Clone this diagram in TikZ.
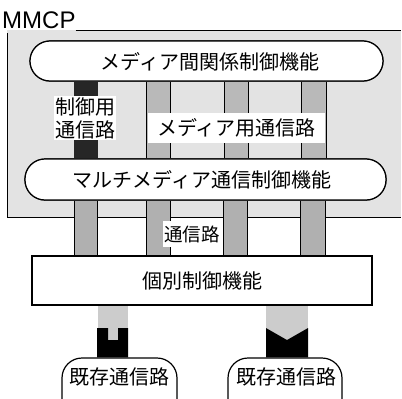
\documentclass[tikz,border=0pt]{standalone}
\usepackage{fontspec}
\setmainfont{Liberation Sans}
\newfontfamily\jp{Noto Sans CJK JP}
\begin{document}
\begin{tikzpicture}[x=1pt,y=-1pt,
  pill/.style={draw, line width=1.2pt, fill=white, rounded corners=20pt, inner sep=0pt},
  boxx/.style={draw, line width=1.2pt, fill=white, inner sep=0pt},
  lbl/.style={font=\jp\fontsize{20}{24}\selectfont, inner sep=1pt},
  colA/.style={fill=gray!55},
  colB/.style={fill=gray!62},
  edge/.style={line width=1pt}]
\useasboundingbox (0,0) rectangle (402,399);
\clip (0,0) rectangle (402,399);
% MMCP label and underline
\node[anchor=south west, inner sep=0pt, font=\fontsize{24}{28}\selectfont] (mmcp) at (2,28.5) {MMCP};
\coordinate (lineend) at (401,30);
% background region
\fill[gray!22] (7,30) rectangle (401,217);
\draw[edge] (mmcp.south east) ++(0,1.5) coordinate (ls) -- (lineend);
\draw[line width=0.8pt] (7,33) -- (7,217) -- (401,217);
% nodes
\node[pill, minimum width=353pt, minimum height=40pt] (top) at (206.5,61) {};
\node[pill, minimum width=361pt, minimum height=41pt] (mid) at (205.5,179.5) {};
\node[boxx, minimum width=340pt, minimum height=49pt] (ind) at (202,280.5) {};
\node[pill, minimum width=115pt, minimum height=60pt] (ex1) at (119.5,388) {};
\node[pill, minimum width=114pt, minimum height=60pt] (ex2) at (285,388) {};
% control channel (dark)
\fill[black!85] (74,0 |- top.south) rectangle (98,0 |- mid.north);
% media channels above
\foreach \a/\b in {146/170,224/248,301/326}{
  \fill[colA] (\a,0 |- top.south) rectangle (\b,0 |- mid.north);
  \draw[edge] (\a,0 |- top.south) -- (\a,0 |- mid.north);
  \draw[edge] (\b,0 |- top.south) -- (\b,0 |- mid.north);
}
% channels below
\foreach \a/\b in {74/97,146/170,223/247,300/325}{
  \fill[colB] (\a,0 |- mid.south) rectangle (\b,0 |- ind.north);
  \draw[edge] (\a,0 |- mid.south) -- (\a,0 |- ind.north);
  \draw[edge] (\b,0 |- mid.south) -- (\b,0 |- ind.north);
}
% redraw pills on top
\node[pill, minimum width=353pt, minimum height=40pt] at (top) {};
\node[pill, minimum width=361pt, minimum height=41pt] at (mid) {};
\node[boxx, minimum width=340pt, minimum height=49pt] at (ind) {};
% texts in pills
\node[lbl] (t1) at (210,62) {メディア間関係制御機能};
\node[lbl] (t2) at (202,180) {マルチメディア通信制御機能};
\node[lbl] (t3) at (202,281) {個別制御機能};
\node[lbl] (t4) at (119,377) {既存通信路};
\node[lbl] (t5) at (286,377) {既存通信路};
% labels on channels
\node[lbl, fill=white, align=center, inner sep=1pt, font=\jp\fontsize{20}{23}\selectfont] (ctl) at (85,118) {制御用\\通信路};
\node[lbl, fill=white, minimum width=177pt, minimum height=30pt] (med) at (236.5,128) {メディア用通信路};
\node[lbl, fill=white, font=\jp\fontsize{18.5}{22}\selectfont, minimum height=26pt] (com) at (192,234) {通信路};
% connectors to existing channels
\fill[gray!40] (98,0 |- ind.south) rectangle (128,328);
\fill[gray!40] (108,328) rectangle (118,340);
\fill[black] (97,328) -- (108,328) -- (108,340) -- (118,340) -- (118,328) -- (128,328) -- (128,0 |- ex1.north) -- (97,0 |- ex1.north) -- cycle;
\fill[gray!40] (266,0 |- ind.south) rectangle (308,328);
\fill[gray!40] (266,328) -- (287,340) -- (308,328) -- cycle;
\fill[black] (266,328) -- (287,340) -- (308,328) -- (308,0 |- ex2.north) -- (266,0 |- ex2.north) -- cycle;
\end{tikzpicture}
\end{document}
